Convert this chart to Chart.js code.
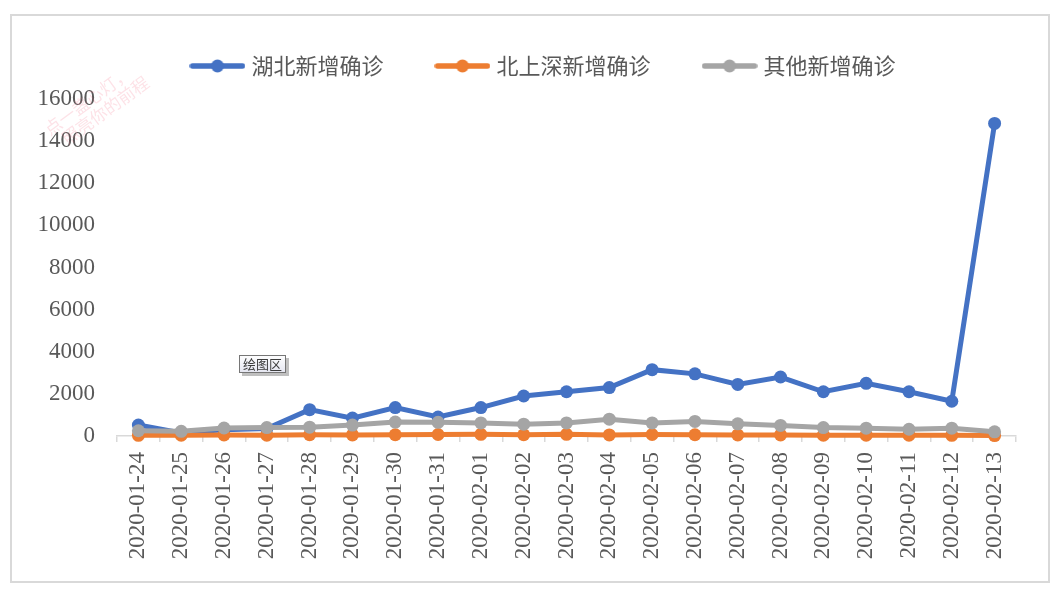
<!DOCTYPE html>
<html lang="zh">

<head>
    <meta charset="UTF-8">
    <title>新增确诊</title>
    <style>
        body { margin: 0; background: #fff; }
        #box {
            position: absolute;
            left: 10px;
            top: 14px;
            width: 1036px;
            height: 565px;
            border: 2px solid #d9d9d9;
        }
    </style>
</head>

<body>
    <div id="box"><canvas id="chart"></canvas></div>

    <script src="https://cdn.jsdelivr.net/npm/chart.js"></script>
    <script>
        const dates = ['2020-01-24', '2020-01-25', '2020-01-26', '2020-01-27', '2020-01-28', '2020-01-29', '2020-01-30',
            '2020-01-31', '2020-02-01', '2020-02-02', '2020-02-03', '2020-02-04', '2020-02-05', '2020-02-06',
            '2020-02-07', '2020-02-08', '2020-02-09', '2020-02-10', '2020-02-11', '2020-02-12', '2020-02-13'];
        const hubei = [520, 150, 300, 350, 1250, 850, 1350, 900, 1350, 1900, 2100, 2300, 3150, 2950, 2450, 2800, 2100, 2500, 2100, 1650, 14840];
        const beishangshen = [30, 40, 50, 40, 60, 50, 60, 70, 80, 60, 80, 50, 70, 60, 50, 50, 40, 40, 40, 30, 20];
        const others = [250, 220, 380, 400, 420, 520, 660, 650, 620, 560, 620, 800, 620, 690, 580, 500, 400, 370, 320, 370, 200];
        const seriesNames = ['湖北新增确诊', '北上深新增确诊', '其他新增确诊'];
        const yTicks = [0, 2000, 4000, 6000, 8000, 10000, 12000, 14000, 16000];

        const colors = ['#4472C4', '#ED7D31', '#A5A5A5'];
        const textColor = '#595959';
        const serif = '"Liberation Serif", "Times New Roman", serif';
        const cjk = '"Noto Sans CJK SC", sans-serif';
        const tickFont = { family: serif, size: 23 };

        // little line + dot picture for the legend
        function legendIcon(color) {
            const c = document.createElement('canvas');
            c.width = 56;
            c.height = 16;
            const g = c.getContext('2d');
            g.strokeStyle = color;
            g.lineWidth = 5.5;
            g.lineCap = 'round';
            g.beginPath();
            g.moveTo(3, 8);
            g.lineTo(53, 8);
            g.stroke();
            g.fillStyle = color;
            g.beginPath();
            g.arc(28, 8, 6.5, 0, Math.PI * 2);
            g.fill();
            return c;
        }
        const icons = colors.map(legendIcon);

        // width of the widest y label, so mirrored labels can sit right-aligned left of the axis
        const measure = document.createElement('canvas').getContext('2d');
        measure.font = tickFont.size + 'px ' + tickFont.family;
        const widestY = Math.max(...yTicks.map(v => measure.measureText(String(v)).width));

        function series(i, data, order) {
            return {
                label: seriesNames[i],
                data: data,
                borderColor: colors[i],
                backgroundColor: colors[i],
                borderWidth: 5,
                pointRadius: 6.5,
                pointBorderWidth: 0,
                pointHoverRadius: 7,
                tension: 0,
                clip: false,
                order: order
            };
        }

        // watermark + the little excel hint box
        const extras = {
            id: 'extras',
            beforeDatasetsDraw(chart) {
                const ctx = chart.ctx;
                ctx.save();
                ctx.translate(84, 90);
                ctx.rotate(-36 * Math.PI / 180);
                ctx.fillStyle = 'rgba(245, 110, 135, 0.2)';
                ctx.font = '17px ' + cjk;
                ctx.textAlign = 'center';
                ctx.textBaseline = 'middle';
                ctx.fillText('点一盏心灯，', -4, -9);
                ctx.fillText('照亮你的前程', 5, 9);
                ctx.restore();
            },
            afterDraw(chart) {
                const ctx = chart.ctx;
                ctx.save();
                ctx.fillStyle = 'rgba(0,0,0,0.25)';
                ctx.fillRect(230, 342, 47, 18);
                const grd = ctx.createLinearGradient(0, 339, 0, 357);
                grd.addColorStop(0, '#ffffff');
                grd.addColorStop(1, '#e4e5f0');
                ctx.fillStyle = grd;
                ctx.fillRect(227, 339, 47, 18);
                ctx.strokeStyle = '#767676';
                ctx.lineWidth = 1;
                ctx.strokeRect(227.5, 339.5, 46, 17);
                ctx.fillStyle = '#3c3c3c';
                ctx.font = '13px ' + cjk;
                ctx.textAlign = 'center';
                ctx.textBaseline = 'middle';
                ctx.fillText('绘图区', 250.5, 348.5);
                ctx.restore();
            }
        };

        const config = {
            type: 'line',
            data: {
                labels: dates,
                datasets: [
                    series(0, hubei, 3),
                    series(1, beishangshen, 2),
                    series(2, others, 1)
                ]
            },
            options: {
                responsive: true,
                maintainAspectRatio: false,
                animation: false,
                layout: { padding: { left: 62, right: 32, top: -17, bottom: 0 } },
                scales: {
                    x: {
                        offset: true,
                        grid: {
                            offset: true,
                            drawOnChartArea: false,
                            drawTicks: true,
                            tickLength: 6,
                            color: '#d9d9d9',
                            lineWidth: 1.5
                        },
                        border: { color: '#d9d9d9', width: 1.5 },
                        ticks: {
                            autoSkip: false,
                            minRotation: 90,
                            maxRotation: 90,
                            padding: 10,
                            color: textColor,
                            font: tickFont
                        },
                        afterFit(scale) { scale.height = 145; }
                    },
                    y: {
                        min: 0,
                        max: 16000,
                        afterBuildTicks(scale) {
                            scale.ticks = yTicks.map(v => ({ value: v }));
                        },
                        grid: { display: false, drawTicks: false },
                        border: { display: false },
                        ticks: {
                            mirror: true,
                            crossAlign: 'far',
                            padding: -(22 + widestY),
                            color: textColor,
                            font: tickFont,
                            callback: v => String(v)
                        },
                        afterFit(scale) { scale.width = 43; }
                    }
                },
                plugins: {
                    legend: {
                        position: 'top',
                        labels: {
                            usePointStyle: true,
                            pointStyleWidth: 46,
                            padding: 56,
                            color: textColor,
                            font: { family: cjk, size: 22 },
                            sort: (a, b) => a.datasetIndex - b.datasetIndex,
                            generateLabels(chart) {
                                const items = Chart.defaults.plugins.legend.labels.generateLabels(chart);
                                items.forEach(it => { it.pointStyle = icons[it.datasetIndex]; });
                                return items;
                            }
                        }
                    },
                    // empty title used as a spacer under the legend
                    title: {
                        display: true,
                        text: '',
                        weight: 500,
                        padding: 0,
                        font: { size: 10, lineHeight: 1.2 }
                    },
                    tooltip: { enabled: false }
                }
            },
            plugins: [extras]
        };

        const chart = new Chart(document.getElementById('chart'), config);
    </script>
</body>

</html>
